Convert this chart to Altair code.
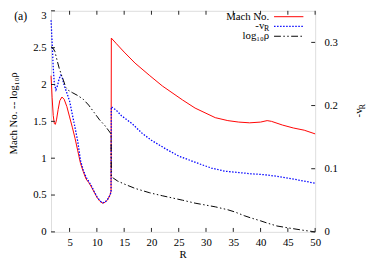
import altair as alt
import pandas as pd

# ---------------- data ----------------
R_mach = [1.6, 1.8, 2.0, 2.2, 2.4, 2.6, 2.9, 3.2, 3.6, 4.0, 4.5, 5.0, 5.5, 6.0, 6.5, 7.0,
          7.5, 8.0, 8.5, 9.0, 9.5, 10.0, 10.5, 11.0, 11.5, 12.0, 12.4, 12.6,
          12.65, 13.5, 15, 17, 19.7, 22, 25.7, 28, 31.7, 34, 36, 38, 40, 41.2, 42, 44, 46, 48, 50]
mach = [2.12, 1.82, 1.58, 1.47, 1.46, 1.52, 1.66, 1.78, 1.83, 1.80, 1.70, 1.56, 1.42, 1.27, 1.10, 0.93,
        0.82, 0.72, 0.67, 0.61, 0.54, 0.47, 0.42, 0.39, 0.40, 0.44, 0.50, 0.55,
        2.63, 2.56, 2.44, 2.29, 2.12, 1.98, 1.79, 1.68, 1.55, 1.51, 1.49, 1.48, 1.49, 1.51, 1.50, 1.45, 1.41, 1.38, 1.33]

R_v = [1.6, 1.8, 2.0, 2.2, 2.5, 2.8, 3.1, 3.4, 3.7, 4.0, 4.5, 5.0, 5.5, 6.0, 6.5, 7.0,
       7.5, 8.0, 8.5, 9.0, 9.5, 10.0, 10.5, 11.0, 11.5, 12.0, 12.4, 12.6,
       12.65, 13.5, 14.5, 16.5, 18.3, 20, 22.7, 25, 28.7, 31, 33.5, 36, 38.2, 40, 41.2, 43, 45, 47, 50]
neg_vR = [0.335, 0.30, 0.26, 0.235, 0.225, 0.232, 0.243, 0.248, 0.243, 0.232, 0.220, 0.207, 0.186, 0.165, 0.143, 0.113,
          0.098, 0.087, 0.080, 0.073, 0.064, 0.056, 0.050, 0.046, 0.047, 0.052, 0.058, 0.063,
          0.198, 0.193, 0.184, 0.171, 0.156, 0.145, 0.131, 0.120, 0.108, 0.101, 0.096, 0.094, 0.092, 0.091, 0.090, 0.088, 0.085, 0.082, 0.077]

R_rho = [1.6, 1.9, 2.3, 2.7, 3.1, 3.5, 3.9, 4.3, 4.8, 5.5, 6.5, 7.5, 8.5, 9.5, 10.5, 11.5, 12.2, 12.6,
         12.65, 13.0, 13.8, 15, 17, 19.7, 22, 25.7, 28, 31.7, 34, 35.3, 37, 38.2, 40, 41.2, 43, 45.4, 48, 50]
log_rho = [2.51, 2.50, 2.45, 2.33, 2.22, 2.13, 2.05, 1.96, 1.92, 1.89, 1.85, 1.80, 1.72, 1.62, 1.52, 1.44, 1.37, 1.33,
           0.75, 0.73, 0.69, 0.65, 0.59, 0.53, 0.49, 0.43, 0.39, 0.34, 0.30, 0.27, 0.22, 0.19, 0.15, 0.12, 0.08, 0.05, 0.02, 0.0]

x_ticks = [5, 10, 15, 20, 25, 30, 35, 40, 45, 50]
y_left_ticks = [0, 0.5, 1, 1.5, 2, 2.5, 3]
y_right_ticks = [0, 0.1, 0.2, 0.3]
series_names = ["Mach No.", "-v", "log\u2081\u2080\u03c1"]

# ---------------- chart ----------------
W, H = 270, 226
FONT = "Times New Roman, Liberation Serif, serif"
FS = 11
AX = "#222222"

xscale = alt.Scale(domain=[1.6, 50], nice=False, zero=False)
lscale = alt.Scale(domain=[0, 3], nice=False, zero=False)
rscale = alt.Scale(domain=[0, 0.35], nice=False, zero=False)

common_axis = dict(ticks=False, domain=False, grid=False, title=None, labelFont=FONT,
                   labelFontSize=FS, labelColor="black", labelFlush=False, labelOverlap=False,
                   labelExpr="datum.value")
xaxis = alt.Axis(values=x_ticks, labelPadding=5, **common_axis)
laxis = alt.Axis(values=y_left_ticks, orient="left", labelPadding=5,
                 labelBaseline=alt.condition("datum.value == 3", alt.value("top"), alt.value("middle")),
                 labelOffset=alt.condition("datum.value == 3", alt.value(-1), alt.value(0)),
                 **common_axis)
raxis = alt.Axis(values=y_right_ticks, orient="right", labelPadding=9, **common_axis)

X = alt.X("R:Q", scale=xscale, axis=xaxis)

df_m = pd.DataFrame({"R": R_mach, "val": mach, "i": range(len(mach))})
df_v = pd.DataFrame({"R": R_v, "val": neg_vR, "i": range(len(neg_vR))})
df_r = pd.DataFrame({"R": R_rho, "val": log_rho, "i": range(len(log_rho))})

DASH_V = [1.5, 1.6]
DASH_R = [7, 2.5, 1.5, 2.5, 1.5, 2.5]

red = alt.Chart(df_m).mark_line(color="#ff0000", strokeWidth=1).encode(
    x=X, y=alt.Y("val:Q", scale=lscale, axis=laxis), order="i:Q")
blue = alt.Chart(df_v).mark_line(color="#0000ff", strokeWidth=1.3, strokeDash=DASH_V).encode(
    x=X, y=alt.Y("val:Q", scale=rscale, axis=raxis), order="i:Q")
black = alt.Chart(df_r).mark_line(color="#000000", strokeWidth=1, strokeDash=DASH_R).encode(
    x=X, y=alt.Y("val:Q", scale=lscale, axis=None), order="i:Q")

# inward ticks
xt = pd.DataFrame({"R": x_ticks})
ticks_bottom = alt.Chart(xt).mark_rule(color=AX, strokeWidth=1).encode(
    x=X, y=alt.value(H), y2=alt.value(H - 4))
ticks_top = alt.Chart(xt).mark_rule(color=AX, strokeWidth=1).encode(
    x=X, y=alt.value(0), y2=alt.value(4))
ticks_left = alt.Chart(pd.DataFrame({"t": y_left_ticks})).mark_rule(color=AX, strokeWidth=1).encode(
    y=alt.Y("t:Q", scale=lscale, axis=None), x=alt.value(0), x2=alt.value(4))
ticks_right = alt.Chart(pd.DataFrame({"t": y_right_ticks})).mark_rule(color=AX, strokeWidth=1).encode(
    y=alt.Y("t:Q", scale=rscale, axis=None), x=alt.value(W - 4), x2=alt.value(W))

one = pd.DataFrame({"k": [0]})


def txt(s, x, y, size=FS, align="center", baseline="middle", angle=0, dx=0, dy=0):
    kw = dict(font=FONT, fontSize=size, align=align, baseline=baseline, color="black", dx=dx, dy=dy)
    if angle:
        kw["angle"] = angle
    return alt.Chart(pd.DataFrame({"s": [s]})).mark_text(**kw).encode(
        text="s:N", x=alt.value(x), y=alt.value(y))


def seg(y, color, dash=None, width=1.0):
    kw = dict(color=color, strokeWidth=width)
    if dash:
        kw["strokeDash"] = dash
    return alt.Chart(one).mark_rule(**kw).encode(
        x=alt.value(228), x2=alt.value(258), y=alt.value(y))


texts = [
    txt("(a)", -31, 5, size=12),
    txt("R", 135, 250),
    txt("Mach No. -- log\u2081\u2080\u03c1", -37.5, 105, angle=270),
    txt("-v", 318, 109, align="left", baseline="alphabetic", angle=270),
    txt("R", 318, 109, size=8, align="left", baseline="alphabetic", angle=270, dx=8.3, dy=2.5),
    # legend
    txt(series_names[0], 223, 6, align="right"),
    txt(series_names[1], 218, 16, align="right"),
    txt("R", 223, 18.5, size=8, align="right"),
    txt(series_names[2], 223, 26, align="right"),
    seg(6, "#ff0000"),
    seg(16, "#0000ff", DASH_V, 1.3),
    seg(26, "#000000", DASH_R),
]

chart = alt.layer(red, blue, black, ticks_bottom, ticks_top, ticks_left, ticks_right, *texts).resolve_scale(
    y="independent"
).properties(
    width=W, height=H,
    autosize=alt.AutoSizeParams(type="none"),
    padding={"left": 44, "top": 0, "right": 52, "bottom": 32},
).configure_view(stroke=AX, strokeWidth=1).configure(background="white")

chart.save("out.html", embed_options={"renderer": "svg", "actions": False})
